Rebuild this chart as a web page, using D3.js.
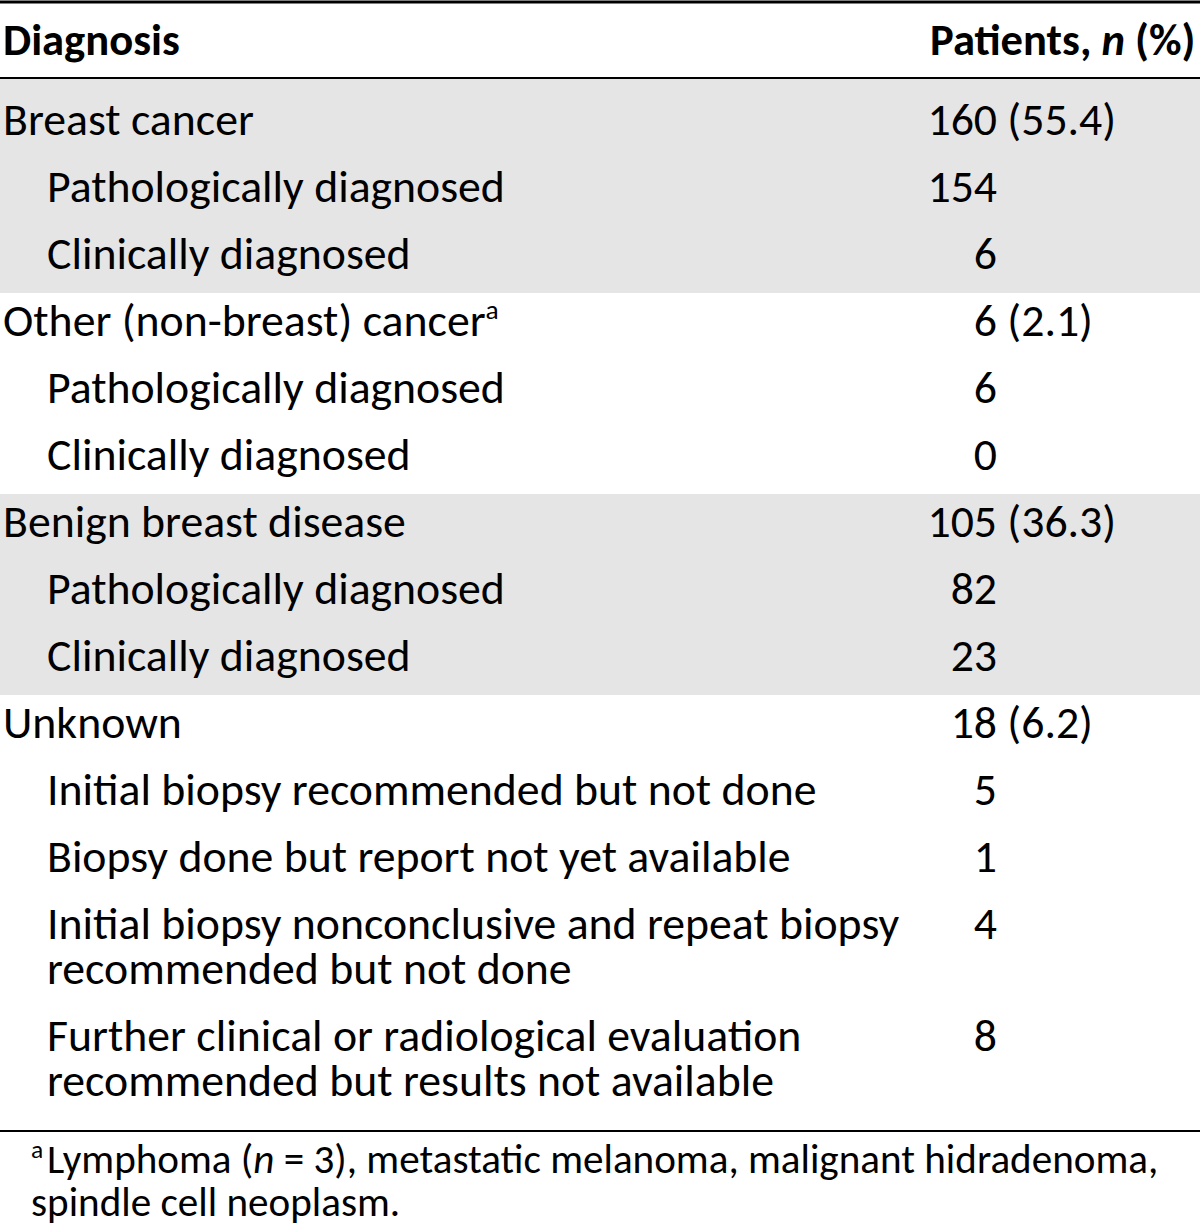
<!DOCTYPE html>
<html>
<head>
<meta charset="utf-8">
<script src="https://cdn.jsdelivr.net/npm/d3@7"></script>
<style>
	body { margin: 0; background: #fff; }
	text { font-family: Carlito, Lato, "Open Sans", sans-serif; fill: #000; }
</style>
</head>
<body>
<script>
// Table data
const labels = [
	["Breast cancer"],
	["Pathologically diagnosed"],
	["Clinically diagnosed"],
	["Other (non-breast) cancer"],
	["Pathologically diagnosed"],
	["Clinically diagnosed"],
	["Benign breast disease"],
	["Pathologically diagnosed"],
	["Clinically diagnosed"],
	["Unknown"],
	["Initial biopsy recommended but not done"],
	["Biopsy done but report not yet available"],
	["Initial biopsy nonconclusive and repeat biopsy", "recommended but not done"],
	["Further clinical or radiological evaluation", "recommended but results not available"]
];
const levels = [0, 1, 1, 0, 1, 1, 0, 1, 1, 0, 1, 1, 1, 1];
const counts = [160, 154, 6, 6, 6, 0, 105, 82, 23, 18, 5, 1, 4, 8];
const percents = ["55.4", null, null, "2.1", null, null, "36.3", null, null, "6.2", null, null, null, null];
const groups = [0, 0, 0, 1, 1, 1, 2, 2, 2, 3, 3, 3, 3, 3];
const shadedGroups = [0, 2];
const footMarks = [3];   // rows that carry footnote "a"
const headers = ["Diagnosis", ["Patients, ", "n", " (%)"]];
const footnote = [
	["Lymphoma (", "n", " = 3), metastatic melanoma, malignant hidradenoma,"],
	["spindle cell neoplasm."]
];

const W = 1200, H = 1228;
const svg = d3.select("body").append("svg")
	.attr("width", W)
	.attr("height", H);

// Font size that makes a string as wide as in the original
function fitSize(str, width, bold) {
	let probe = svg.append("text")
		.attr("font-size", 100)
		.attr("font-weight", bold ? "bold" : "normal")
		.text(str);
	let s = 100 * width / probe.node().getComputedTextLength();
	probe.remove();
	return s;
}
let fontSize = fitSize("Pathologically diagnosed", 458, false);
let headSize = Math.min(fontSize, fitSize(headers[1].join(""), 266, true));
let footSize = Math.min(fontSize, fitSize(footnote[0].join(""), 1112, false));

// Row layout: each row starts after the previous one, extra lines add lineGap
let pitch = 67, lineGap = 45;
let rowStart = [];
let acc = 0;
for (let i = 0; i < labels.length; ++i) {
	rowStart.push(acc);
	acc += 1 + (labels[i].length - 1) * lineGap / pitch;
}
let y = d3.scaleLinear().domain([0, 1]).range([135, 135 + pitch]);
let x = d3.scaleOrdinal().domain([0, 1]).range([3, 47]);
let countX = 997, headerLine = 79;

// Shaded bands for groups
for (let g of shadedGroups) {
	let idx = d3.range(labels.length).filter(i => groups[i] === g);
	let first = idx[0], last = idx[idx.length - 1];
	let top = first === 0 ? headerLine : y(rowStart[first]) - 43;
	let bottom = y(rowStart[last]) + (labels[last].length - 1) * lineGap + 24;
	svg.append("rect")
		.attr("x", 0).attr("y", top)
		.attr("width", W).attr("height", bottom - top)
		.attr("fill", "#e5e5e5");
}

// Rules
let lastRow = labels.length - 1;
let tableBottom = y(rowStart[lastRow]) + (labels[lastRow].length - 1) * lineGap + 35;
svg.append("line").attr("x1", 0).attr("x2", W).attr("y1", 2).attr("y2", 2)
	.attr("stroke", "#000").attr("stroke-width", 3);
svg.append("line").attr("x1", 0).attr("x2", W).attr("y1", 78).attr("y2", 78)
	.attr("stroke", "#000").attr("stroke-width", 2);
svg.append("line").attr("x1", 0).attr("x2", W).attr("y1", tableBottom).attr("y2", tableBottom)
	.attr("stroke", "#000").attr("stroke-width", 2);

// Header
svg.append("text")
	.attr("x", 3).attr("y", 55)
	.attr("font-size", headSize).attr("font-weight", "bold")
	.text(headers[0]);
let head = svg.append("text")
	.attr("x", 930).attr("y", 55)
	.attr("font-size", headSize).attr("font-weight", "bold")
	.attr("xml:space", "preserve");
head.append("tspan").text(headers[1][0]);
head.append("tspan").attr("font-style", "italic").text(headers[1][1]);
head.append("tspan").text(headers[1][2]);

// Row labels
let rows = svg.selectAll("g.row")
	.data(labels)
	.enter()
	.append("g")
	.attr("class", "row");

rows.each(function(lines, i) {
	let t = d3.select(this).append("text")
		.attr("font-size", fontSize);
	lines.forEach(function(line, k) {
		t.append("tspan")
			.attr("x", x(levels[i]))
			.attr("y", y(rowStart[i]) + k * lineGap)
			.text(line);
	});
	if (footMarks.includes(i)) {
		t.append("tspan")
			.attr("font-size", fontSize * 0.6)
			.attr("dy", -fontSize * 0.38)
			.text("a");
	}

	// Count, right aligned, then the percentage
	d3.select(this).append("text")
		.attr("x", countX).attr("y", y(rowStart[i]))
		.attr("font-size", fontSize)
		.attr("text-anchor", "end")
		.text(counts[i]);
	if (percents[i] !== null) {
		d3.select(this).append("text")
			.attr("x", countX).attr("y", y(rowStart[i]))
			.attr("font-size", fontSize)
			.attr("xml:space", "preserve")
			.text(" (" + percents[i] + ")");
	}
});

// Footnote
let foot = svg.append("text").attr("font-size", footSize)
	.attr("xml:space", "preserve");
foot.append("tspan")
	.attr("x", 31).attr("y", 1158)
	.attr("font-size", footSize * 0.62)
	.text("a");
let f1 = foot.append("tspan").attr("x", 47).attr("y", 1173);
f1.append("tspan").text(footnote[0][0]);
f1.append("tspan").attr("font-style", "italic").text(footnote[0][1]);
f1.append("tspan").text(footnote[0][2]);
foot.append("tspan")
	.attr("x", 31).attr("y", 1216)
	.text(footnote[1][0]);
</script>
</body>
</html>
